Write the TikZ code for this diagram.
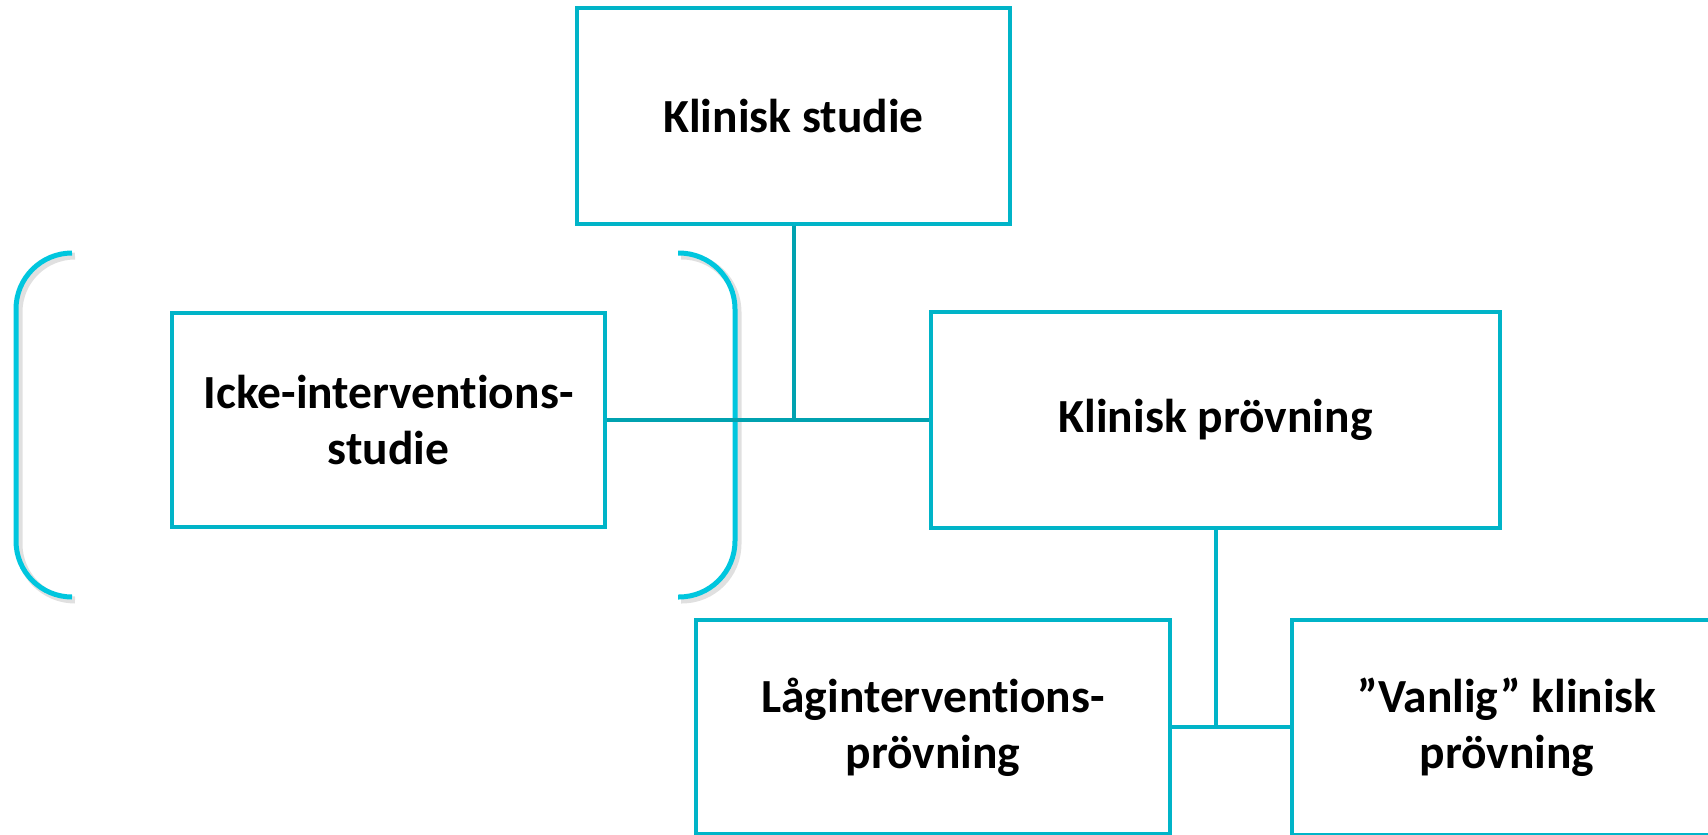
\documentclass[tikz,border=0pt]{standalone}
\usepackage{fontspec}
\setmainfont{Carlito}[Ligatures=NoCommon]
\definecolor{boxc}{RGB}{0,180,200}
\definecolor{connc}{RGB}{0,162,176}
\definecolor{brkc}{RGB}{0,198,222}
\tikzset{
  box/.style={draw=boxc, line width=4pt, fill=white, align=center, inner sep=0pt,
    font=\fontsize{47.5}{56}\selectfont\bfseries},
  conn/.style={draw=connc, line width=4pt},
  conn2/.style={draw=boxc, line width=4pt},
  brk/.style={draw=brkc, line width=5pt, rounded corners=56pt},
  brkshadow/.style={draw=black, opacity=0.12, line width=7pt, rounded corners=56pt}
}
\begin{document}
\begin{tikzpicture}[x=1pt,y=-1pt]
\useasboundingbox (0,0) rectangle (1708,835);
% bracket shadows and brackets
\draw[brkshadow] (75,256) -- (19,256) -- (19,600) -- (75,600);
\draw[brkshadow] (681,256) -- (738,256) -- (738,600) -- (681,600);
\draw[brk] (72,253) -- (16,253) -- (16,597) -- (72,597);
\draw[brk] (678,253) -- (735,253) -- (735,597) -- (678,597);
% boxes
\node[box, minimum width=433pt, minimum height=216pt] (ks) at (793.5,116) {Klinisk studie};
\node[box, minimum width=433pt, minimum height=214pt] (icke) at (388.5,420) {Icke-interventions-\\studie};
\node[box, minimum width=569pt, minimum height=216pt] (kp) at (1215.5,420) {Klinisk prövning};
\node[box, minimum width=474pt, minimum height=214pt] (lag) at (933,727) {Låginterventions-\\prövning};
\node[box, minimum width=430pt, minimum height=215pt] (van) at (1507,727) {”Vanlig” klinisk\\prövning};
% connectors
\draw[conn] (ks.south) -- (ks.south |- kp.west);
\draw[conn] (icke.east) -- (kp.west);
\draw[conn2] (kp.south) -- (kp.south |- lag.east);
\draw[conn2] (lag.east) -- (van.west);
\end{tikzpicture}
\end{document}
